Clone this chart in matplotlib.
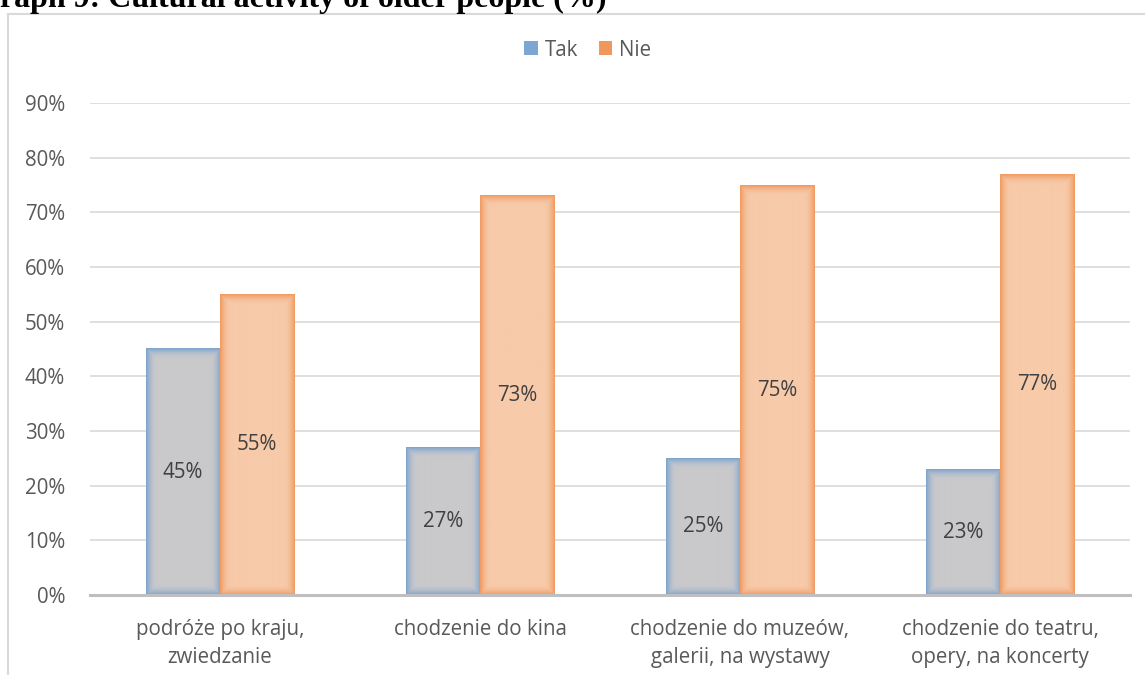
import numpy as np
import matplotlib
matplotlib.use("Agg")
import matplotlib.pyplot as plt
from matplotlib.patches import Patch
from matplotlib.lines import Line2D

categories = ["podróże po kraju,\nzwiedzanie", "chodzenie do kina",
              "chodzenie do muzeów,\ngalerii, na wystawy", "chodzenie do teatru,\nopery, na koncerty"]
tak = [0.45, 0.27, 0.25, 0.23]
nie = [0.55, 0.73, 0.75, 0.77]
series_names = ["Tak", "Nie"]
yticks = [0, 0.1, 0.2, 0.3, 0.4, 0.5, 0.6, 0.7, 0.8, 0.9]
title = "Graph 9: Cultural activity of older people (%)"

FONT = ["Open Sans", "DejaVu Sans"]
TXT = "#595959"
FS = 14.8

fig = plt.figure(figsize=(11.45, 6.75), dpi=100)
W, H = 1145, 675

# outer chart frame
fig.add_artist(Line2D([8 / W, 8 / W], [0, 1 - 14 / H], color="#D9D9D9", lw=1.5))
fig.add_artist(Line2D([8 / W, 1], [1 - 14 / H, 1 - 14 / H], color="#D9D9D9", lw=1.5))

# title (clipped at the top / left as in the source)
fig.text(-25 / W, 1 - 7 / H, title, fontfamily=["Liberation Serif", "DejaVu Serif"],
         fontweight="bold", fontsize=23, ha="left", va="baseline", color="black")

ax = fig.add_axes([90 / W, 1 - 595 / H, 1040 / W, 492 / H])
x = np.arange(len(categories))
w = 0.285
ax.set_xlim(-0.5, len(categories) - 0.5)
ax.set_ylim(0, 0.9)

edge_cols = [np.array([122, 162, 205]) / 255, np.array([240, 152, 92]) / 255]
center_cols = [np.array([201, 201, 203]) / 255, np.array([247, 202, 170]) / 255]

b1 = ax.bar(x - w / 2, tak, w, color="none", zorder=2)
b2 = ax.bar(x + w / 2, nie, w, color="none", zorder=2)

glow = 11.0  # pixels
for bars, ec, cc in [(b1, edge_cols[0], center_cols[0]), (b2, edge_cols[1], center_cols[1])]:
    for p in bars:
        x0, y0 = p.get_x(), p.get_y()
        x1, y1 = x0 + p.get_width(), y0 + p.get_height()
        (px0, py0), (px1, py1) = ax.transData.transform([(x0, y0), (x1, y1)])
        nw, nh = max(int(round(px1 - px0)), 2), max(int(round(py1 - py0)), 2)
        xx = np.arange(nw) + 0.5
        yy = np.arange(nh) + 0.5
        dx = np.minimum(xx, nw - xx)[None, :]
        dy = np.minimum(yy, nh - yy)[:, None]
        d = np.minimum(dx, dy)
        s = np.clip(d / glow, 0, 1)
        s = 1 - (1 - s) ** 2
        img = ec[None, None, :] * (1 - s[..., None]) + cc[None, None, :] * s[..., None]
        ax.imshow(img, extent=(x0, x1, y0, y1), aspect="auto", origin="lower",
                  interpolation="bilinear", zorder=2)

for bars, vals in [(b1, tak), (b2, nie)]:
    for p, v in zip(bars, vals):
        ax.text(p.get_x() + p.get_width() / 2, v / 2, f"{round(v * 100)}%",
                ha="center", va="center", fontsize=FS, color="#404040",
                fontfamily=FONT, zorder=4)

ax.set_yticks(yticks)
ax.set_yticklabels([f"{round(t * 100)}%" for t in yticks], fontfamily=FONT,
                   fontsize=FS, color=TXT)
ax.set_xticks(x)
ax.set_xticklabels(categories, fontfamily=FONT, fontsize=FS, color=TXT, linespacing=1.45)
ax.tick_params(axis="both", length=0)
ax.tick_params(axis="y", pad=18)
ax.tick_params(axis="x", pad=17)
ax.grid(axis="y", color="#D9D9D9", lw=1.2, zorder=0)
ax.set_axisbelow(True)
for s in ["top", "right", "left"]:
    ax.spines[s].set_visible(False)
ax.spines["bottom"].set_color("#BFBFBF")
ax.spines["bottom"].set_linewidth(2.2)
ax.spines["bottom"].set_zorder(5)

handles = [Patch(facecolor="#7DA6D3", edgecolor="none"), Patch(facecolor="#F0975B", edgecolor="none")]
leg = fig.legend(handles, series_names, loc="center", bbox_to_anchor=(588 / W, 1 - 50 / H),
                 ncol=2, frameon=False, prop={"family": FONT, "size": FS},
                 handlelength=0.65, handleheight=0.65, handletextpad=0.35, columnspacing=1.0)
for t in leg.get_texts():
    t.set_color(TXT)

fig.savefig("out.png", dpi=100)
